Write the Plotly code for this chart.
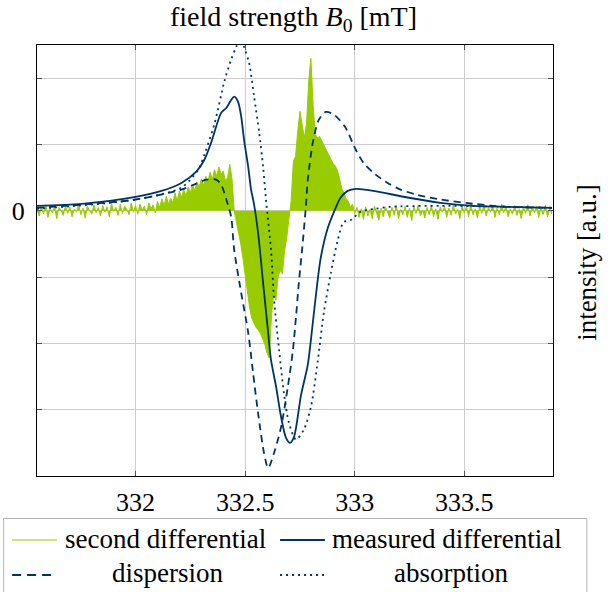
import numpy as np
import plotly.graph_objects as go

# ---------------- data ----------------
# second differential, sampled every 0.01 mT starting at 331.55 mT
green_start = 331.55
green_step = 0.01
green_y = [
    0.02, -0.08, 0.06, -0.05, 0.09, -0.10, 0.04, -0.03, 0.07, -0.12,
    0.05, 0.01, -0.07, 0.08, -0.04, 0.06, -0.09, 0.03, -0.02, 0.10,
    -0.06, 0.04, -0.11, 0.07, 0.00, -0.05, 0.09, -0.03, 0.05, -0.08,
    0.08, -0.02, 0.06, -0.09, 0.11, -0.01, 0.05, -0.07, 0.10, -0.04,
    0.07, 0.02, -0.06, 0.12, -0.02, 0.08, -0.05, 0.10, 0.01, 0.07,
    -0.06, 0.12, 0.03, 0.09, -0.03, 0.14, 0.05, 0.18, 0.08, 0.22,
    0.10, 0.19, 0.12, 0.27, 0.15, 0.30, 0.20, 0.33, 0.22, 0.36,
    0.27, 0.40, 0.30, 0.43, 0.36, 0.48, 0.38, 0.52, 0.44, 0.58,
    0.47, 0.62, 0.52, 0.66, 0.55, 0.60, 0.45, 0.50, 0.70, 0.48,
    0.00, -0.15, -0.32, -0.50, -0.72, -0.95, -1.25, -1.45, -1.62, -1.70,
    -1.76, -1.80, -1.85, -1.93, -2.02, -2.15, -2.22, -1.60, -1.24, -1.35,
    -1.00, -0.90, -0.95, -0.60, -0.40, -0.12, 0.15, 0.75, 0.82, 1.20,
    1.50, 1.30, 1.10, 1.30, 1.95, 2.30, 1.60, 1.15, 1.10, 1.12,
    1.05, 1.00, 0.92, 0.85, 0.78, 0.72, 0.68, 0.62, 0.50, 0.34,
    0.28, 0.18, 0.15, 0.06, 0.10, -0.04, 0.05, -0.10, 0.03, -0.13,
    0.06, -0.08, 0.02, -0.12, 0.07, -0.05, -0.14, 0.04, -0.09, 0.06,
    -0.03, -0.11, 0.05, -0.07, 0.08, -0.12, 0.02, -0.06, 0.07, -0.10,
    0.04, -0.15, 0.06, -0.04, 0.09, -0.08, 0.01, -0.11, 0.05, -0.06,
    0.08, -0.09, 0.03, -0.13, 0.06, -0.02, 0.07, -0.10, 0.04, -0.07,
    0.09, -0.05, 0.02, -0.12, 0.08, -0.03, 0.06, -0.09, 0.10, -0.06,
    0.03, -0.11, 0.07, -0.04, 0.09, -0.08, 0.05, -0.02, 0.08, -0.10,
    0.04, -0.06, 0.10, -0.03, 0.06, -0.09, 0.03, -0.05, 0.08, -0.07,
    0.02, -0.12, 0.06, -0.04, 0.09, -0.08, 0.05, -0.03, 0.07, -0.10,
    0.04, -0.06, 0.08, -0.09, 0.03, -0.05,
]
green_x = green_start + green_step * np.arange(len(green_y))

meas_x = [331.55, 331.755, 332.0, 332.118, 332.209, 332.277, 332.314, 332.345,
          332.391, 332.414, 332.436, 332.45, 332.468, 332.482, 332.495, 332.514,
          332.527, 332.541, 332.559, 332.582, 332.605, 332.618, 332.641, 332.664,
          332.686, 332.705, 332.723, 332.755, 332.786, 332.8, 332.823, 332.845,
          332.877, 332.905, 332.936, 332.968, 333.005, 333.086, 333.241, 333.391,
          333.541, 333.695, 333.9]
meas_y = [0.075, 0.105, 0.21, 0.30, 0.42, 0.59, 0.77, 1.03,
          1.48, 1.55, 1.67, 1.72, 1.64, 1.42, 1.07, 0.66,
          0.32, 0.09, -0.33, -1.09, -1.84, -2.25, -2.65, -3.11,
          -3.42, -3.50, -3.41, -2.78, -2.32, -1.95, -1.27, -0.71,
          -0.26, -0.02, 0.20, 0.30, 0.33, 0.30, 0.20, 0.12,
          0.075, 0.06, 0.045]

disp_x = [331.55, 332.0, 332.209, 332.277, 332.323, 332.368, 332.391, 332.414,
          332.436, 332.45, 332.482, 332.514, 332.536, 332.559, 332.586, 332.605,
          332.632, 332.664, 332.695, 332.718, 332.732, 332.745, 332.764, 332.777,
          332.786, 332.809, 332.836, 332.868, 332.905, 332.955, 333.005, 333.041,
          333.086, 333.15, 333.209, 333.286, 333.391, 333.541, 333.695, 333.9]
disp_y = [0.045, 0.17, 0.32, 0.41, 0.47, 0.47, 0.39, 0.17,
          -0.09, -0.59, -1.24, -1.84, -2.44, -3.05, -3.65, -3.88,
          -3.65, -3.26, -2.65, -2.10, -1.60, -1.09, -0.44, 0.06,
          0.47, 1.03, 1.37, 1.49, 1.45, 1.27, 0.92, 0.72,
          0.57, 0.42, 0.32, 0.24, 0.17, 0.105, 0.06, 0.045]

abs_x = [331.55, 332.0, 332.209, 332.286, 332.3, 332.359, 332.405, 332.436,
         332.459, 332.482, 332.495, 332.518, 332.541, 332.564, 332.582, 332.595,
         332.618, 332.632, 332.655, 332.677, 332.7, 332.732, 332.768, 332.8,
         332.832, 332.859, 332.891, 332.923, 332.95, 332.982, 333.027, 333.095,
         333.164, 333.391, 333.695, 333.9]
abs_y = [0.03, 0.17, 0.35, 0.62, 0.72, 1.30, 1.95, 2.28,
         2.47, 2.60, 2.47, 2.23, 1.72, 1.18, 0.66, 0.17,
         -0.59, -1.34, -2.10, -2.75, -3.20, -3.45, -3.30, -2.96,
         -2.25, -1.54, -0.94, -0.44, -0.17, -0.14, -0.015, 0.03,
         0.06, 0.075, 0.06, 0.045]

x_ticks = [332, 332.5, 333, 333.5]
x_tick_labels = ["332", "332.5", "333", "333.5"]
y_ticks = [-3, -2, -1, 0, 1, 2]
y_tick_labels = ["", "", "", "0", "", ""]

series_names = ["second differential", "measured differential", "dispersion", "absorption"]

# ---------------- styling ----------------
GREEN = "#99cc00"
BLUE = "#003366"
FONT = "Liberation Serif"
FS = 27
DASH = "7px,5px"
DOT = "2px,4px"

fig = go.Figure()
fig.add_trace(go.Scatter(x=green_x, y=green_y, mode="lines", name=series_names[0],
                         line=dict(color=GREEN, width=1), fill="tozeroy",
                         fillcolor=GREEN, showlegend=False))
fig.add_trace(go.Scatter(x=meas_x, y=meas_y, mode="lines", name=series_names[1],
                         line=dict(color=BLUE, width=1.8, shape="spline", smoothing=0.8),
                         showlegend=False))
fig.add_trace(go.Scatter(x=disp_x, y=disp_y, mode="lines", name=series_names[2],
                         line=dict(color=BLUE, width=1.8, dash=DASH,
                                   shape="spline", smoothing=0.8),
                         showlegend=False))
fig.add_trace(go.Scatter(x=abs_x, y=abs_y, mode="lines", name=series_names[3],
                         line=dict(color=BLUE, width=1.8, dash=DOT,
                                   shape="spline", smoothing=0.8),
                         showlegend=False))

L, R, T, B = 35, 59, 45, 116
W, H = 612, 592
pw, ph = W - L - R, H - T - B


def px(xp):
    return (xp - L) / pw


def py(yp):
    return (H - B - yp) / ph


# ---- legend drawn as a pgfplots-style box below the axes ----
shapes = [
    dict(type="rect", xref="paper", yref="paper", x0=px(1.5), x1=px(587),
         y0=py(518.5), y1=py(620), line=dict(color="#b3b3b3", width=1),
         fillcolor="white", layer="above"),
    dict(type="line", xref="paper", yref="paper", x0=px(10), x1=px(55), y0=py(540), y1=py(540),
         line=dict(color=GREEN, width=1), layer="above"),
    dict(type="line", xref="paper", yref="paper", x0=px(279), x1=px(324), y0=py(540), y1=py(540),
         line=dict(color=BLUE, width=1.8), layer="above"),
    dict(type="line", xref="paper", yref="paper", x0=px(10), x1=px(52), y0=py(575), y1=py(575),
         line=dict(color=BLUE, width=1.8, dash="9px,6px"), layer="above"),
    dict(type="line", xref="paper", yref="paper", x0=px(279), x1=px(324), y0=py(575), y1=py(575),
         line=dict(color=BLUE, width=1.8, dash=DOT), layer="above"),
]

legend_texts = [
    dict(text=series_names[0], x=px(61), y=py(539), xanchor="left"),
    dict(text=series_names[1], x=px(329), y=py(539), xanchor="left"),
    dict(text=series_names[2], x=px(166), y=py(573), xanchor="center"),
    dict(text=series_names[3], x=px(451), y=py(573), xanchor="center"),
]

annotations = [
    dict(text="field strength <i>B</i><sub>0</sub> [mT]", xref="paper", yref="paper",
         x=px(292), y=py(19), xanchor="center", yanchor="middle",
         showarrow=False, font=dict(family=FONT, size=28)),
    dict(text="intensity [a.u.]", xref="paper", yref="paper",
         x=px(587), y=py(262), xanchor="center", yanchor="middle",
         textangle=-90, showarrow=False, font=dict(family=FONT, size=FS)),
]
for t in legend_texts:
    annotations.append(dict(text=t["text"], xref="paper", yref="paper", x=t["x"], y=t["y"],
                            xanchor=t["xanchor"], yanchor="middle", showarrow=False,
                            font=dict(family=FONT, size=FS)))

fig.update_layout(
    width=W, height=H,
    margin=dict(l=L, r=R, t=T, b=B),
    paper_bgcolor="white", plot_bgcolor="white",
    font=dict(family=FONT, size=FS, color="black"),
    showlegend=False,
    xaxis=dict(range=[331.55, 333.905], tickvals=x_ticks, ticktext=x_tick_labels,
               showgrid=True, gridcolor="#cccccc", gridwidth=1, zeroline=False,
               showline=True, linecolor="black", linewidth=1.2, mirror="allticks",
               ticks="inside", ticklen=5, tickcolor="#555555", tickwidth=1,
               ticklabelstandoff=3, tickfont=dict(size=26)),
    yaxis=dict(range=[-4.0, 2.5], tickvals=y_ticks, ticktext=y_tick_labels,
               showgrid=True, gridcolor="#cccccc", gridwidth=1, zeroline=False,
               showline=True, linecolor="black", linewidth=1.2, mirror="allticks",
               ticks="inside", ticklen=5, tickcolor="#555555", tickwidth=1,
               ticklabelstandoff=6, tickfont=dict(size=26)),
    shapes=shapes,
    annotations=annotations,
)

fig.write_html("out.html")
